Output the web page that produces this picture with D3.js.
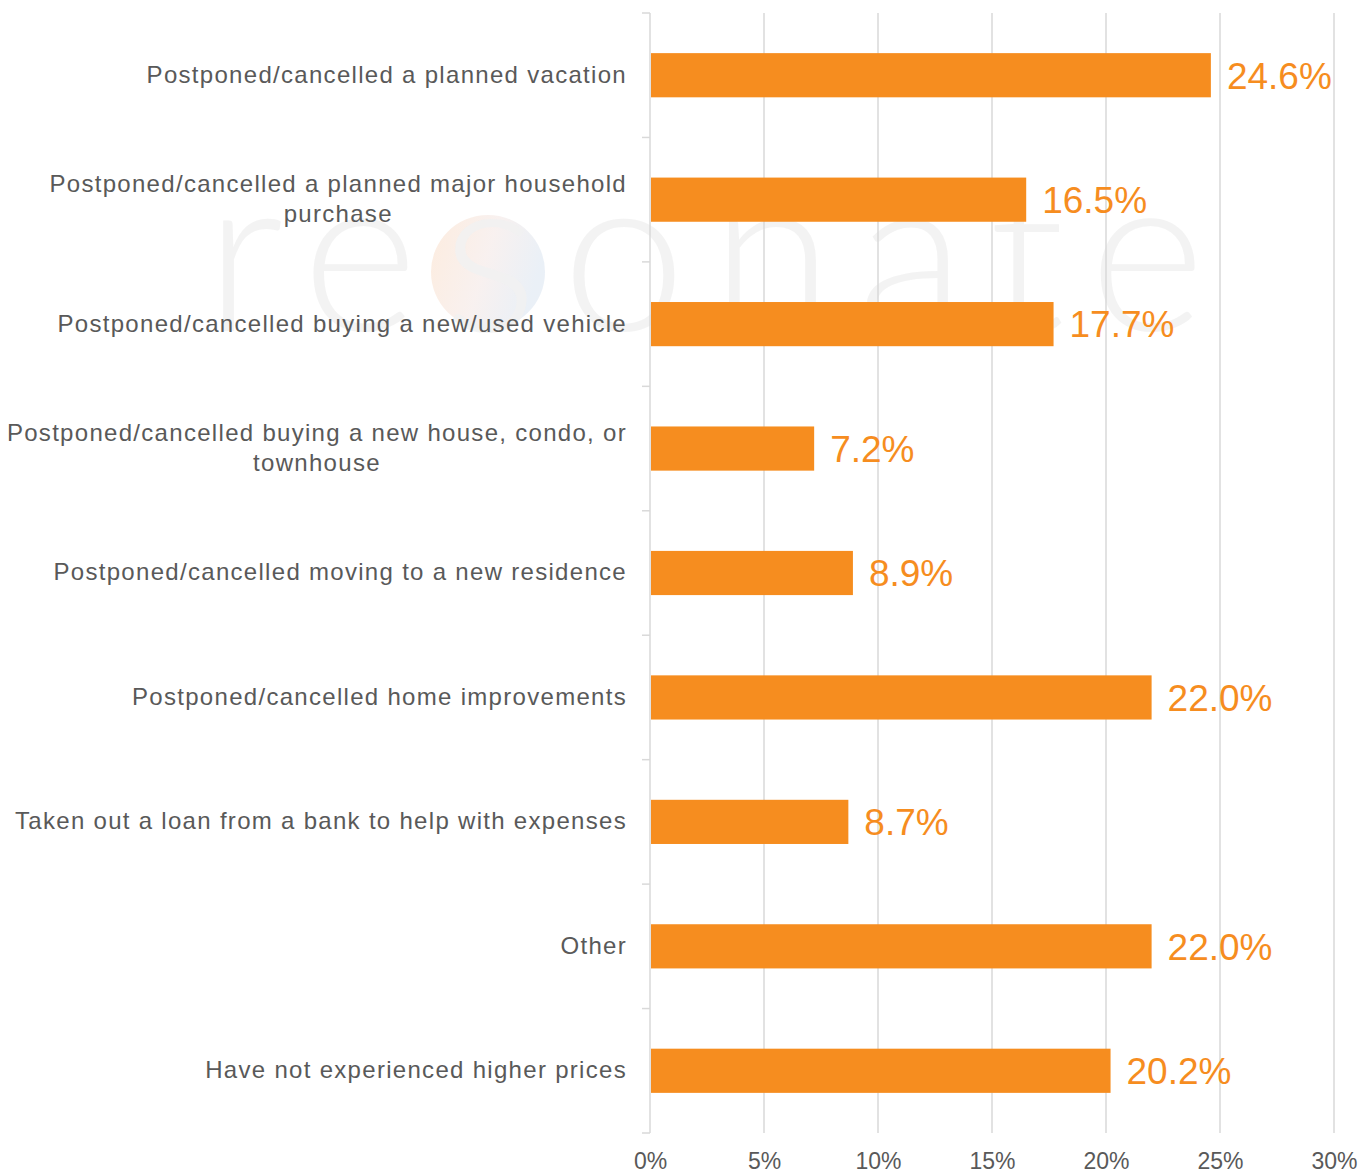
<!DOCTYPE html>
<html>
<head>
<meta charset="utf-8">
<script src="https://cdn.jsdelivr.net/npm/d3@7"></script>
<style>
  body { margin: 0; background: #fff; }
  svg { display: block; font-family: "Liberation Sans", Arial, sans-serif; }
</style>
</head>
<body>
<svg id="chart"></svg>
<script>
// categories, top to bottom
var categories = [
  'Postponed/cancelled a planned vacation',
  'Postponed/cancelled a planned major household purchase',
  'Postponed/cancelled buying a new/used vehicle',
  'Postponed/cancelled buying a new house, condo, or townhouse',
  'Postponed/cancelled moving to a new residence',
  'Postponed/cancelled home improvements',
  'Taken out a loan from a bank to help with expenses',
  'Other',
  'Have not experienced higher prices'
];
var values = [24.6, 16.5, 17.7, 7.2, 8.9, 22.0, 8.7, 22.0, 20.2];
var xTicks = [0, 5, 10, 15, 20, 25, 30];

var vWidth = 1369;
var vHeight = 1173;
var m = {top: 13, right: 35, bottom: 40, left: 650};
var w = vWidth - m.left - m.right;
var h = vHeight - m.top - m.bottom;

var svg = d3.select('#chart')
    .attr('width', vWidth)
    .attr('height', vHeight);

// faint watermark behind everything
var defs = svg.append('defs');
var grad = defs.append('linearGradient').attr('id', 'wmGrad')
    .attr('x1', '0%').attr('y1', '0%').attr('x2', '100%').attr('y2', '30%');
grad.append('stop').attr('offset', '0%').attr('stop-color', '#fce6d4');
grad.append('stop').attr('offset', '55%').attr('stop-color', '#f6ecea');
grad.append('stop').attr('offset', '100%').attr('stop-color', '#e3ebf4');

var wm = svg.append('g').attr('class', 'watermark');
wm.append('circle')
    .attr('cx', 488).attr('cy', 272).attr('r', 57)
    .style('fill', 'url(#wmGrad)').style('opacity', 0.75);
wm.append('text')
    .attr('x', 205).attr('y', 331)
    .attr('textLength', 1000)
    .attr('lengthAdjust', 'spacing')
    .style('font-family', 'Lato, Roboto, "Open Sans", sans-serif')
    .style('font-weight', 300)
    .style('font-size', '222px')
    .style('fill', '#f1f1f1')
    .style('fill-opacity', 0.85)
    .text('resonate');

var g = svg.append('g')
    .attr('transform', 'translate(' + m.left + ',' + m.top + ')');

var x = d3.scaleLinear().domain([0, 30]).range([0, w]);
var y = d3.scaleBand().domain(categories).range([0, h]).paddingInner(0.645).paddingOuter(0.3225);

// gridlines
g.selectAll('.grid')
    .data(xTicks.slice(1))
    .enter().append('line')
    .attr('x1', function (d) { return x(d); })
    .attr('x2', function (d) { return x(d); })
    .attr('y1', 0).attr('y2', h)
    .style('stroke', '#d9d9d9')
    .style('stroke-width', 1.5);

// x axis labels
var xAxis = g.append('g')
    .attr('transform', 'translate(0,' + h + ')')
    .call(d3.axisBottom(x).tickValues(xTicks).tickSize(0).tickPadding(20)
        .tickFormat(function (d) { return d + '%'; }));
xAxis.select('.domain').remove();
xAxis.selectAll('text')
    .style('font-size', '23px')
    .style('fill', '#595959')
    .style('font-family', '"Liberation Sans", Arial, sans-serif');

// y axis line with category boundary ticks
var bounds = d3.range(categories.length + 1).map(function (i) { return i * h / categories.length; });
g.append('line')
    .attr('x1', 0).attr('x2', 0).attr('y1', 0).attr('y2', h)
    .style('stroke', '#d9d9d9').style('stroke-width', 1.5);
g.selectAll('.btick')
    .data(bounds)
    .enter().append('line')
    .attr('x1', -8).attr('x2', 0)
    .attr('y1', function (d) { return d; })
    .attr('y2', function (d) { return d; })
    .style('stroke', '#d9d9d9').style('stroke-width', 1.5);

// bars
g.selectAll('.bar')
    .data(values)
    .enter().append('rect')
    .attr('x', x(0) + 1)
    .attr('y', function (d, i) { return y(categories[i]); })
    .attr('width', function (d) { return x(d) - x(0) - 1; })
    .attr('height', y.bandwidth())
    .style('fill', '#f68d1f');

// value labels
g.selectAll('.val')
    .data(values)
    .enter().append('text')
    .attr('x', function (d) { return x(d) + 16; })
    .attr('y', function (d, i) { return y(categories[i]) + y.bandwidth() / 2; })
    .attr('dy', '0.36em')
    .style('font-size', '37px')
    .style('fill', '#f68d1f')
    .text(function (d) { return d.toFixed(1) + '%'; });

// category labels, wrapped
var maxW = 625;
var labels = g.selectAll('.cat')
    .data(categories)
    .enter().append('text')
    .attr('text-anchor', 'middle')
    .style('font-size', '24px')
    .style('letter-spacing', '1.3px')
    .style('fill', '#595959');

labels.each(function (d) {
    var t = d3.select(this);
    var words = d.split(' ');
    var lines = [];
    var cur = [];
    var probe = t.append('tspan');
    words.forEach(function (wd) {
        cur.push(wd);
        probe.text(cur.join(' '));
        if (probe.node().getComputedTextLength() > maxW && cur.length > 1) {
            cur.pop();
            lines.push(cur.join(' '));
            cur = [wd];
        }
    });
    lines.push(cur.join(' '));
    probe.remove();
    var lh = 29.5;
    var cy = y(d) + y.bandwidth() / 2 - (lines.length - 1) * lh / 2 - 1;
    var widest = 0;
    var spans = lines.map(function (ln, i) {
        var s = t.append('tspan').attr('y', cy + i * lh).attr('dy', '0.35em').text(ln);
        widest = Math.max(widest, s.node().getComputedTextLength());
        return s;
    });
    // right-aligned block, lines centred within it
    var cx = -23 - widest / 2;
    spans.forEach(function (s) { s.attr('x', cx); });
});
</script>
</body>
</html>
